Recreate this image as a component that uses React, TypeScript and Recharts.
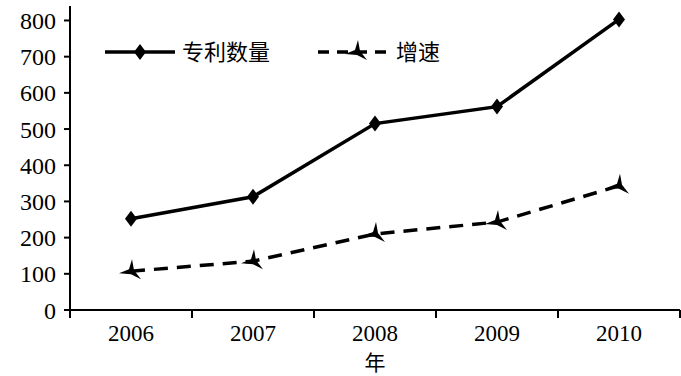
import React from "react";
import { LineChart, Line, XAxis, YAxis } from "recharts";

const years = ["2006", "2007", "2008", "2009", "2010"];
const patents = [252, 313, 515, 562, 803];
const growth = [107, 135, 210, 243, 343];
const yTicks = [0, 100, 200, 300, 400, 500, 600, 700, 800];

const data = years.map((y, i) => ({ idx: i, year: y, patents: patents[i], growth: growth[i] }));

const FONT = '"Liberation Serif", "Times New Roman", "Noto Sans CJK SC", serif';
const CJK = '"Noto Sans CJK SC", sans-serif';

function Diamond({ cx, cy }: any) {
  if (cx == null || cy == null) return null;
  return <path d={`M${cx},${cy - 8} L${cx + 6},${cy} L${cx},${cy + 8} L${cx - 6},${cy} Z`} fill="#000" />;
}

function Star3({ cx, cy }: any) {
  if (cx == null || cy == null) return null;
  const d = `M${cx + 1},${cy - 12} L${cx + 3},${cy - 1} L${cx + 10},${cy + 8} L${cx},${cy + 3} L${cx - 12},${cy + 2} L${cx - 2},${cy - 2} Z`;
  return <path d={d} fill="#000" />;
}

// legend drawn as an overlay so it doesn't eat plot space
function LegendBox() {
  return (
    <svg width={360} height={40} style={{ display: "block" }}>
      <line x1={0} y1={20} x2={70} y2={20} stroke="#000" strokeWidth={3.5} />
      <Diamond cx={35} cy={20} />
      <text x={77} y={28} fontFamily={CJK} fontSize={22} fill="#000">专利数量</text>
      <line x1={213} y1={20} x2={285} y2={20} stroke="#000" strokeWidth={3.5} strokeDasharray="11 8" />
      <Star3 cx={252} cy={20} />
      <text x={291} y={28} fontFamily={CJK} fontSize={22} fill="#000">增速</text>
    </svg>
  );
}

export default function App() {
  return (
    <div style={{ position: "absolute", left: 0, top: 0, width: 681, height: 376, background: "#fff" }}>
      <LineChart width={681} height={376} data={data} margin={{ top: 6, right: 1, bottom: 0, left: 8 }}>
        {/* boundary tick marks, drawn on the axis nearest the plot */}
        <XAxis
          xAxisId={0}
          dataKey="idx"
          type="number"
          domain={[-0.5, 4.5]}
          ticks={[-0.5, 0.5, 1.5, 2.5, 3.5, 4.5]}
          tickFormatter={() => ""}
          height={9}
          tickSize={8}
          stroke="#000"
          strokeWidth={2}
        />
        <XAxis
          xAxisId={1}
          dataKey="idx"
          type="number"
          domain={[-0.5, 4.5]}
          ticks={[0, 1, 2, 3, 4]}
          tickFormatter={(v: number) => years[v]}
          axisLine={false}
          tickLine={false}
          height={57}
          tickMargin={0}
          tick={{ fontFamily: FONT, fontSize: 23, fill: "#000" }}
          label={{ value: "年", position: "insideBottom", offset: 6, fontFamily: CJK, fontSize: 21, fill: "#000" }}
        />
        <YAxis
          domain={[0, 840]}
          ticks={yTicks}
          width={62}
          tickSize={6}
          tickMargin={8}
          stroke="#000"
          strokeWidth={2}
          tick={{ fontFamily: FONT, fontSize: 24, fill: "#000" }}
        />
        <Line
          xAxisId={0}
          dataKey="patents"
          stroke="#000"
          strokeWidth={3.5}
          dot={<Diamond />}
          activeDot={false}
          isAnimationActive={false}
        />
        <Line
          xAxisId={0}
          dataKey="growth"
          stroke="#000"
          strokeWidth={3.5}
          strokeDasharray="14 9"
          dot={<Star3 />}
          activeDot={false}
          isAnimationActive={false}
        />
      </LineChart>
      <div style={{ position: "absolute", left: 105, top: 32 }}>
        <LegendBox />
      </div>
    </div>
  );
}
